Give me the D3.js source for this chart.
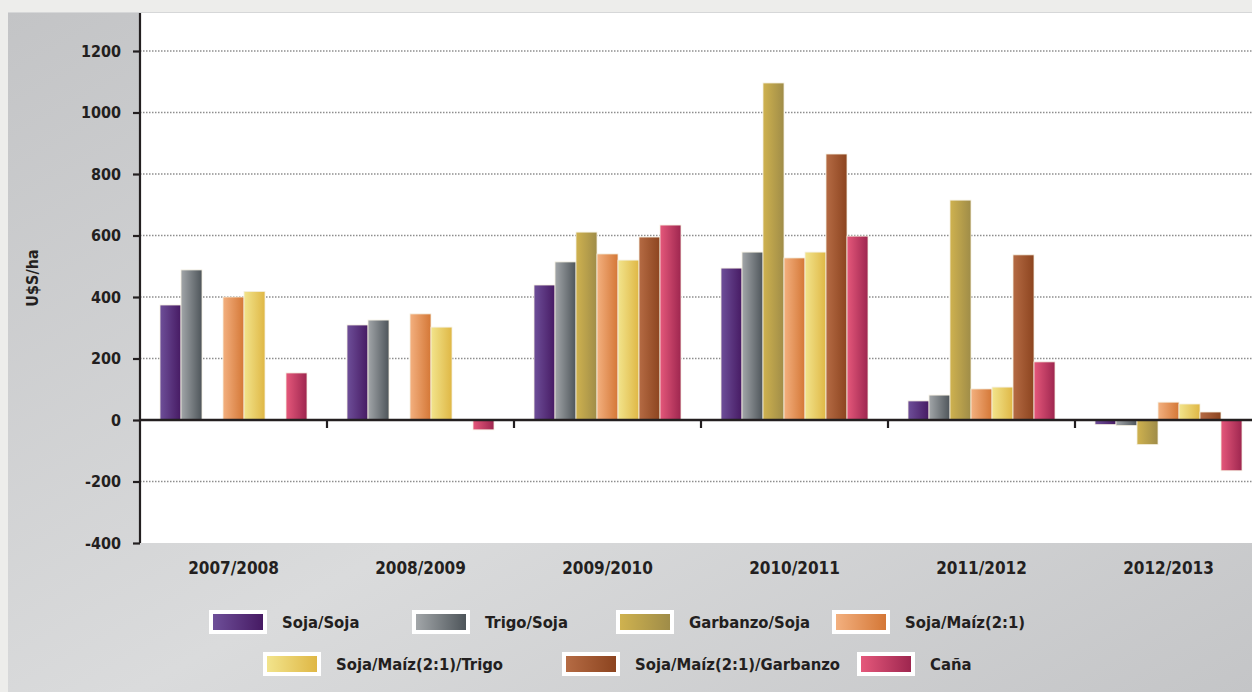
<!DOCTYPE html>
<html><head><meta charset="utf-8">
<script src="https://cdn.jsdelivr.net/npm/d3@7"></script>
<style>html,body{margin:0;padding:0;background:#ededeb;overflow:hidden}svg{display:block}</style>
</head><body>
<script>
const categories = ["2007/2008","2008/2009","2009/2010","2010/2011","2011/2012","2012/2013"];
const seriesNames = ["Soja/Soja","Trigo/Soja","Garbanzo/Soja","Soja/Maíz(2:1)","Soja/Maíz(2:1)/Trigo","Soja/Maíz(2:1)/Garbanzo","Caña"];
const sojaSoja   = [374, 309, 439, 494, 62, -15];
const trigoSoja  = [488, 325, 514, 546, 81, -18];
const garbanzoSoja = [null, null, 611, 1096, 715, -80];
const sojaMaiz   = [400, 345, 540, 527, 101, 58];
const sojaMaizTrigo = [418, 302, 520, 546, 107, 52];
const sojaMaizGarbanzo = [null, null, 595, 865, 537, 26];
const cana       = [153, -32, 634, 598, 189, -165];
const seriesValues = [sojaSoja, trigoSoja, garbanzoSoja, sojaMaiz, sojaMaizTrigo, sojaMaizGarbanzo, cana];
const yTicks = [-400,-200,0,200,400,600,800,1000,1200];
const colorsL = ["#6e4f99","#a2a6a9","#cfb24f","#f3b07f","#f2e48c","#b56b44","#e5587b"];
const colorsR = ["#461a63","#4e555a","#9f8c48","#d47736","#dfb745","#8c441f","#9e264f"];

const W = 1252, H = 692;
const svg = d3.select("body").append("svg").attr("width", W).attr("height", H);
const defs = svg.append("defs");
const pg = defs.append("linearGradient").attr("id","panel").attr("x1",0).attr("y1",0).attr("x2",1).attr("y2",1);
pg.append("stop").attr("offset",0).attr("stop-color","#c3c4c6");
pg.append("stop").attr("offset",0.55).attr("stop-color","#dadbdc");
pg.append("stop").attr("offset",1).attr("stop-color","#c4c5c7");
seriesNames.forEach((s,i)=>{
  const g = defs.append("linearGradient").attr("id","g"+i).attr("x1",0).attr("y1",0).attr("x2",1).attr("y2",0);
  g.append("stop").attr("offset",0).attr("stop-color",colorsL[i]);
  g.append("stop").attr("offset",1).attr("stop-color",colorsR[i]);
});

svg.append("rect").attr("x",0).attr("y",0).attr("width",W).attr("height",H).attr("fill","#ededeb");
svg.append("rect").attr("x",8).attr("y",12).attr("width",W-8).attr("height",H-12).attr("fill","url(#panel)");
svg.append("line").attr("x1",8).attr("x2",W).attr("y1",12.5).attr("y2",12.5).attr("stroke","#d6d7d8");

const plotLeft = 140, plotTop = 13, plotBottom = 543;
const y = d3.scaleLinear().domain([-400,1200]).range([543, 51]);
const x0 = d3.scaleBand().domain(categories).range([plotLeft, plotLeft + 187*6]);
const x1 = d3.scaleBand().domain(seriesNames).range([20, 167]);

svg.append("rect").attr("x",plotLeft).attr("y",plotTop).attr("width",W-plotLeft).attr("height",plotBottom-plotTop).attr("fill","#ffffff");

const font = "'DejaVu Sans Condensed','DejaVu Sans',sans-serif";

// grid
svg.append("g").selectAll("line").data(yTicks.filter(t=>t!==0 && t!==-400)).join("line")
  .attr("x1",plotLeft).attr("x2",W).attr("y1",d=>y(d)).attr("y2",d=>y(d))
  .attr("stroke","#8e8e8e").attr("stroke-width",1.3).attr("stroke-dasharray","1.5,1.5");

// bars
const groups = svg.append("g").selectAll("g").data(categories).join("g")
  .attr("transform",d=>`translate(${x0(d)},0)`);
groups.selectAll("rect").data((c,ci)=>seriesNames.map((s,si)=>({s,si,v:seriesValues[si][ci]})).filter(d=>d.v!==null))
  .join("rect")
  .attr("x",d=>x1(d.s)).attr("width",x1.bandwidth())
  .attr("y",d=>Math.min(y(d.v),y(0))).attr("height",d=>Math.abs(y(d.v)-y(0)))
  .attr("fill",d=>`url(#g${d.si})`).attr("stroke","#f4efe0").attr("stroke-width",0.8);

// y axis
const yAxis = d3.axisLeft(y).tickValues(yTicks).tickSize(7).tickPadding(12).tickFormat(d=>String(d));
const ya = svg.append("g").attr("transform",`translate(${plotLeft},0)`).call(yAxis);
ya.select(".domain").attr("d",`M0,${plotTop}V${plotBottom}`).attr("stroke","#231f20").attr("stroke-width",2.2);
ya.selectAll(".tick line").attr("stroke","#231f20").attr("stroke-width",2.2);
ya.selectAll(".tick text").attr("font-family",font).attr("font-weight","bold").attr("font-size",16).attr("fill","#231f20");

// zero line with band ticks
svg.append("line").attr("x1",plotLeft).attr("x2",W).attr("y1",y(0)).attr("y2",y(0)).attr("stroke","#231f20").attr("stroke-width",2.5);
svg.append("g").selectAll("line").data(categories.slice(1)).join("line")
  .attr("x1",d=>x0(d)).attr("x2",d=>x0(d)).attr("y1",y(0)).attr("y2",y(0)+8)
  .attr("stroke","#231f20").attr("stroke-width",2.2);

// category labels
svg.append("g").selectAll("text").data(categories).join("text")
  .attr("x",d=>x0(d)+x0.bandwidth()/2).attr("y",574).attr("text-anchor","middle")
  .attr("font-family",font).attr("font-weight","bold").attr("font-size",17).attr("fill","#231f20").text(d=>d);

// y title
svg.append("text").attr("transform","translate(38,278) rotate(-90)").attr("text-anchor","middle")
  .attr("font-family",font).attr("font-weight","bold").attr("font-size",16).attr("fill","#231f20").text("U$S/ha");

// legend
const legendPos = [[209,622],[412,622],[616,622],[832,622],[263,664],[562,664],[857,664]];
const lg = svg.append("g").selectAll("g").data(seriesNames).join("g")
  .attr("transform",(d,i)=>`translate(${legendPos[i][0]},${legendPos[i][1]})`);
lg.append("rect").attr("x",0).attr("y",-12).attr("width",58).attr("height",24).attr("fill","#ffffff");
lg.append("rect").attr("x",4).attr("y",-8).attr("width",50).attr("height",16).attr("fill",(d,i)=>`url(#g${i})`);
lg.append("text").attr("x",73).attr("y",6).attr("font-family",font).attr("font-weight","bold").attr("font-size",16.5)
  .attr("fill","#231f20").text(d=>d);
</script>
</body></html>
